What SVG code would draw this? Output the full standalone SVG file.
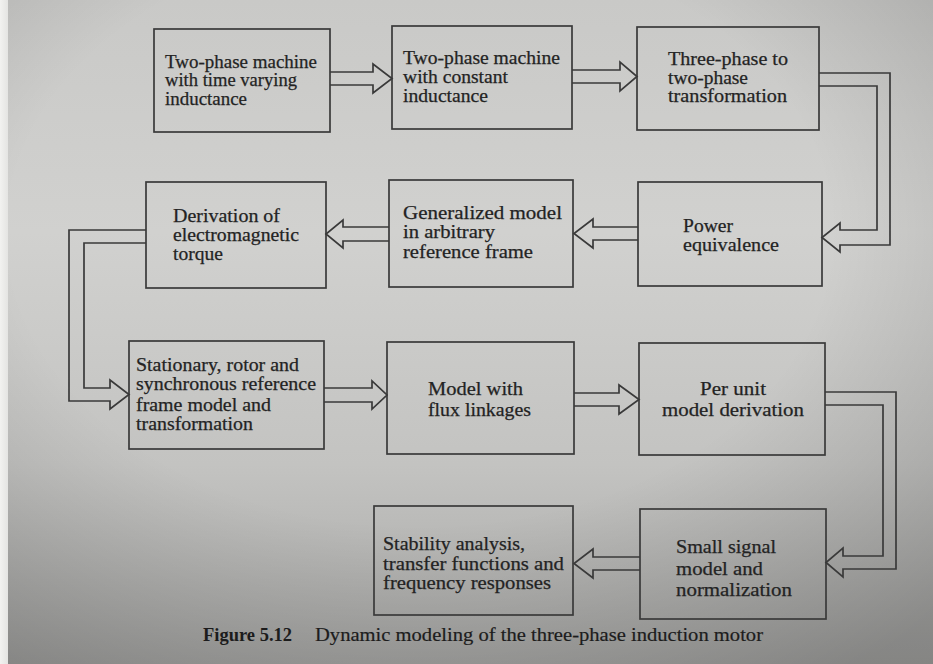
<svg xmlns="http://www.w3.org/2000/svg" width="933" height="664" viewBox="0 0 933 664">
<defs>
<linearGradient id="bg" x1="0" y1="0" x2="0" y2="1">
<stop offset="0" stop-color="#c9c9c7"/>
<stop offset="0.35" stop-color="#d1d1cf"/>
<stop offset="0.7" stop-color="#c3c3c1"/>
<stop offset="1" stop-color="#a6a6a4"/>
</linearGradient>
<radialGradient id="vig" cx="0.45" cy="0.35" r="0.8">
<stop offset="0.55" stop-color="#000" stop-opacity="0"/>
<stop offset="1" stop-color="#000" stop-opacity="0.2"/>
</radialGradient>
<linearGradient id="edge" x1="0" y1="0" x2="1" y2="0">
<stop offset="0" stop-color="#f2f2f0"/>
<stop offset="1" stop-color="#e4e4e2"/>
</linearGradient>
</defs>
<style>
.box{fill:none;stroke:#3a3a3a;stroke-width:1.7}
.con{fill:none;stroke:#3a3a3a;stroke-width:1.7;stroke-linejoin:miter}
.t{font-family:"Liberation Serif","Times New Roman",serif;font-size:18.5px;fill:#232323;stroke:#232323;stroke-width:0.25}
.t2{font-family:"Liberation Serif","Times New Roman",serif;font-size:19px;fill:#232323;stroke:#232323;stroke-width:0.25}
.cap{font-family:"Liberation Serif","Times New Roman",serif;font-size:19.5px;fill:#1c1c1c;stroke:#1c1c1c;stroke-width:0.2}
.capb{font-family:"Liberation Serif","Times New Roman",serif;font-size:19.5px;font-weight:bold;fill:#1c1c1c}
</style>
<rect x="0" y="0" width="933" height="664" fill="url(#bg)"/>
<rect x="0" y="0" width="933" height="664" fill="url(#vig)"/>
<rect x="0" y="0" width="8" height="664" fill="url(#edge)"/>

<g id="connectors">
<path class="con" d="M330,72 H373 V64 L392,78.5 L373,93 V85 H330"/>
<path class="con" d="M572,70 H620 V62 L637,76.5 L620,91 V83 H572"/>
<path class="con" d="M819,73 H890 V245 H840 V252 L822,237.5 L840,223 V230 H877 V86 H819"/>
<path class="con" d="M638,227 H593 V219 L574,233.5 L593,248 V240 H638"/>
<path class="con" d="M389,227 H343 V220 L326,234 L343,248 V241 H389"/>
<path class="con" d="M146,230 H69 V401 H110 V409 L129,394.5 L110,380 V388 H84 V243 H146"/>
<path class="con" d="M324,388 H372 V381 L387,395 L372,409 V402 H324"/>
<path class="con" d="M574,393 H619 V385 L639,399.5 L619,414 V406 H574"/>
<path class="con" d="M825,392 H896 V569 H843 V577 L826,562.5 L843,548 V556 H883 V405 H825"/>
<path class="con" d="M640,557 H593 V549 L574,563.5 L593,578 V570 H640"/>
</g>

<g id="n1">
<rect class="box" x="154" y="29" width="176" height="103"/>
<text class="t" x="165" y="67.5" textLength="152" lengthAdjust="spacingAndGlyphs">Two-phase machine</text>
<text class="t" x="165" y="86" textLength="132" lengthAdjust="spacingAndGlyphs">with time varying</text>
<text class="t" x="165" y="104.5" textLength="82" lengthAdjust="spacingAndGlyphs">inductance</text>
</g>
<g id="n2">
<rect class="box" x="392" y="26" width="180" height="103"/>
<text class="t" x="403" y="64" textLength="157" lengthAdjust="spacingAndGlyphs">Two-phase machine</text>
<text class="t" x="403" y="83" textLength="105" lengthAdjust="spacingAndGlyphs">with constant</text>
<text class="t" x="403" y="101.5" textLength="85" lengthAdjust="spacingAndGlyphs">inductance</text>
</g>
<g id="n3">
<rect class="box" x="637" y="27" width="182" height="103"/>
<text class="t" x="668" y="65" textLength="120" lengthAdjust="spacingAndGlyphs">Three-phase to</text>
<text class="t" x="668" y="83.5" textLength="80" lengthAdjust="spacingAndGlyphs">two-phase</text>
<text class="t" x="668" y="102" textLength="119" lengthAdjust="spacingAndGlyphs">transformation</text>
</g>
<g id="n4">
<rect class="box" x="638" y="182" width="184" height="104"/>
<text class="t" x="683" y="232" textLength="50" lengthAdjust="spacingAndGlyphs">Power</text>
<text class="t" x="683" y="250.5" textLength="96" lengthAdjust="spacingAndGlyphs">equivalence</text>
</g>
<g id="n5">
<rect class="box" x="389" y="180" width="184" height="107"/>
<text class="t" x="403" y="219" textLength="159" lengthAdjust="spacingAndGlyphs">Generalized model</text>
<text class="t" x="403" y="238" textLength="92" lengthAdjust="spacingAndGlyphs">in arbitrary</text>
<text class="t" x="403" y="258" textLength="130" lengthAdjust="spacingAndGlyphs">reference frame</text>
</g>
<g id="n6">
<rect class="box" x="146" y="182" width="180" height="106"/>
<text class="t" x="173" y="222" textLength="107" lengthAdjust="spacingAndGlyphs">Derivation of</text>
<text class="t" x="173" y="240.5" textLength="126" lengthAdjust="spacingAndGlyphs">electromagnetic</text>
<text class="t" x="173" y="259.5" textLength="50" lengthAdjust="spacingAndGlyphs">torque</text>
</g>
<g id="n7">
<rect class="box" x="129" y="341" width="195" height="108"/>
<text class="t2" x="136" y="371" textLength="163" lengthAdjust="spacingAndGlyphs">Stationary, rotor and</text>
<text class="t2" x="136" y="390" textLength="180" lengthAdjust="spacingAndGlyphs">synchronous reference</text>
<text class="t2" x="136" y="411" textLength="135" lengthAdjust="spacingAndGlyphs">frame model and</text>
<text class="t2" x="136" y="430" textLength="117" lengthAdjust="spacingAndGlyphs">transformation</text>
</g>
<g id="n8">
<rect class="box" x="387" y="342" width="187" height="112"/>
<text class="t2" x="428" y="395" textLength="95" lengthAdjust="spacingAndGlyphs">Model with</text>
<text class="t2" x="428" y="416" textLength="103" lengthAdjust="spacingAndGlyphs">flux linkages</text>
</g>
<g id="n9">
<rect class="box" x="639" y="343" width="186" height="112"/>
<text class="t2" x="700" y="395" textLength="66" lengthAdjust="spacingAndGlyphs">Per unit</text>
<text class="t2" x="662" y="416" textLength="142" lengthAdjust="spacingAndGlyphs">model derivation</text>
</g>
<g id="n10">
<rect class="box" x="640" y="509" width="186" height="110"/>
<text class="t2" x="676" y="553" textLength="100" lengthAdjust="spacingAndGlyphs">Small signal</text>
<text class="t2" x="676" y="574.5" textLength="87" lengthAdjust="spacingAndGlyphs">model and</text>
<text class="t2" x="676" y="596" textLength="116" lengthAdjust="spacingAndGlyphs">normalization</text>
</g>
<g id="n11">
<rect class="box" x="374" y="506" width="199" height="109"/>
<text class="t2" x="383" y="550" textLength="142" lengthAdjust="spacingAndGlyphs">Stability analysis,</text>
<text class="t2" x="383" y="569.5" textLength="181" lengthAdjust="spacingAndGlyphs">transfer functions and</text>
<text class="t2" x="383" y="589" textLength="168" lengthAdjust="spacingAndGlyphs">frequency responses</text>
</g>

<g id="caption">
<text class="capb" x="203" y="641" textLength="89" lengthAdjust="spacingAndGlyphs">Figure 5.12</text>
<text class="cap" x="315" y="641" textLength="448" lengthAdjust="spacingAndGlyphs">Dynamic modeling of the three-phase induction motor</text>
</g>
</svg>
